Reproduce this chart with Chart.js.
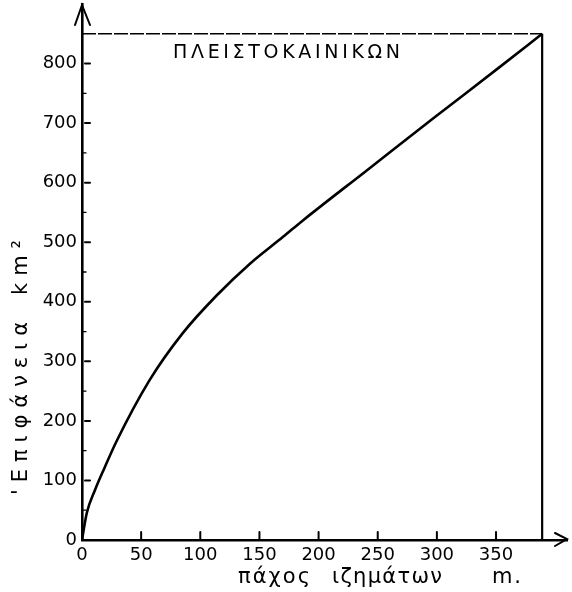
<!DOCTYPE html>
<html>
<head>
<meta charset="utf-8">
<script src="https://cdn.jsdelivr.net/npm/chart.js@4.4.1/dist/chart.umd.min.js"></script>
<style>
  html, body { margin: 0; padding: 0; background: #fff; }
  #wrap { width: 572px; height: 592px; }
</style>
</head>
<body>
<div id="wrap"><canvas id="c"></canvas></div>
<script>
// πάχος ιζημάτων (m) against επιφάνεια (km2)
const thickness = [0, 4, 11, 19, 29, 57, 85, 114, 142, 170, 187, 241, 297, 353, 389];
const area      = [0, 45, 84, 121, 165, 268, 347, 411, 464, 509, 537, 621, 708, 794, 850];

// outline of the Pleistocene block (right edge and top)
const edgeX = [389, 389];
const edgeY = [0, 850];
const topX = [0, 389];
const topY = [850, 850];

const xTicks = [0, 50, 100, 150, 200, 250, 300, 350];
const yTicks = [0, 100, 200, 300, 400, 500, 600, 700, 800];

const blockLabel = "ΠΛΕΙΣΤΟΚΑΙΝΙΚΩΝ";
const xTitle = ["πάχος", "ιζημάτων", "m."];
const yTitle = ["'Επιφάνεια", "km²"];

const toPts = (xs, ys) => xs.map((x, i) => ({ x: x, y: ys[i] }));

// draw text with its letters spread between two points
function spaced(ctx, text, x0, x1, y) {
    const chars = [...text];
    const w = chars.reduce((s, c) => s + ctx.measureText(c).width, 0);
    const gap = chars.length > 1 ? (x1 - x0 - w) / (chars.length - 1) : 0;
    let x = x0;
    chars.forEach(c => {
        ctx.fillText(c, x, y);
        x += ctx.measureText(c).width + gap;
    });
}

const decor = {
    id: "decor",
    afterDraw(chart) {
        const ctx = chart.ctx;
        const xs = chart.scales.x, ys = chart.scales.y;
        const ax = xs.getPixelForValue(0);
        const ay = ys.getPixelForValue(0);
        const top = chart.chartArea.top;
        const right = chart.chartArea.right;

        ctx.save();
        ctx.strokeStyle = "#000";
        ctx.fillStyle = "#000";
        ctx.lineCap = "round";

        // tick marks on the inner side of the axes
        ctx.lineWidth = 2;
        yTicks.forEach(v => {
            if (v === 0) return;
            const py = ys.getPixelForValue(v);
            ctx.beginPath(); ctx.moveTo(ax + 3, py); ctx.lineTo(ax + 8, py); ctx.stroke();
            const pm = ys.getPixelForValue(v - 50);
            ctx.lineWidth = 1.3;
            ctx.beginPath(); ctx.moveTo(ax, pm); ctx.lineTo(ax + 4, pm); ctx.stroke();
            ctx.lineWidth = 2;
        });
        xTicks.forEach(v => {
            if (v === 0) return;
            const px = xs.getPixelForValue(v);
            ctx.beginPath(); ctx.moveTo(px, ay); ctx.lineTo(px, ay - 8); ctx.stroke();
        });

        // arrow heads
        ctx.lineWidth = 2;
        ctx.beginPath();
        ctx.moveTo(ax - 7, top + 21); ctx.lineTo(ax, top + 1); ctx.lineTo(ax + 8, top + 21);
        ctx.stroke();
        ctx.beginPath();
        ctx.moveTo(right - 12, ay - 7); ctx.lineTo(right, ay - 1); ctx.lineTo(right - 12, ay + 6);
        ctx.stroke();

        // block label
        ctx.font = "19px 'DejaVu Sans'";
        ctx.textBaseline = "alphabetic";
        ctx.textAlign = "left";
        spaced(ctx, blockLabel, 173, 400, 58);

        // x title
        ctx.font = "21px 'DejaVu Sans'";
        spaced(ctx, xTitle[0], 238, 310, 583);
        spaced(ctx, xTitle[1], 332, 442, 583);
        spaced(ctx, xTitle[2], 492, 521, 583);

        // y title, rotated
        ctx.translate(27, 0);
        ctx.rotate(-Math.PI / 2);
        spaced(ctx, yTitle[0], -495, -322, 0);
        spaced(ctx, yTitle[1], -295, -240, 0);
        ctx.restore();
    }
};

new Chart(document.getElementById("c"), {
    type: "scatter",
    data: {
        datasets: [
            {
                data: toPts(thickness, area),
                showLine: true,
                borderColor: "#000",
                borderWidth: 2.6,
                pointRadius: 0,
                cubicInterpolationMode: "monotone"
            },
            {
                data: toPts(edgeX, edgeY),
                showLine: true,
                borderColor: "#000",
                borderWidth: 2.2,
                pointRadius: 0
            },
            {
                data: toPts(topX, topY),
                showLine: true,
                borderColor: "#000",
                borderWidth: 1.6,
                borderDash: [14, 2],
                pointRadius: 0
            }
        ]
    },
    options: {
        responsive: true,
        maintainAspectRatio: false,
        animation: false,
        layout: { padding: { top: 4, right: 5, left: 0, bottom: 0 } },
        plugins: { legend: { display: false }, tooltip: { enabled: false } },
        scales: {
            x: {
                type: "linear",
                min: 0,
                max: 410,
                afterBuildTicks: s => { s.ticks = xTicks.map(v => ({ value: v })); },
                afterFit: s => { s.height = 52; s.paddingLeft = 0; s.paddingRight = 0; },
                grid: { display: false, drawTicks: false },
                border: { color: "#000", width: 2.4, dash: [18, 4] },
                ticks: {
                    color: "#000",
                    padding: 5,
                    maxRotation: 0,
                    font: { family: "'DejaVu Sans'", size: 18 }
                }
            },
            y: {
                type: "linear",
                min: 0,
                max: 900,
                afterBuildTicks: s => { s.ticks = yTicks.map(v => ({ value: v })); },
                afterFit: s => { s.width = 82; s.paddingTop = 0; s.paddingBottom = 0; },
                grid: { display: false, drawTicks: false },
                border: { color: "#000", width: 2.6 },
                ticks: {
                    color: "#000",
                    padding: 5,
                    font: { family: "'DejaVu Sans'", size: 18 }
                }
            }
        }
    },
    plugins: [decor]
});
</script>
</body>
</html>
